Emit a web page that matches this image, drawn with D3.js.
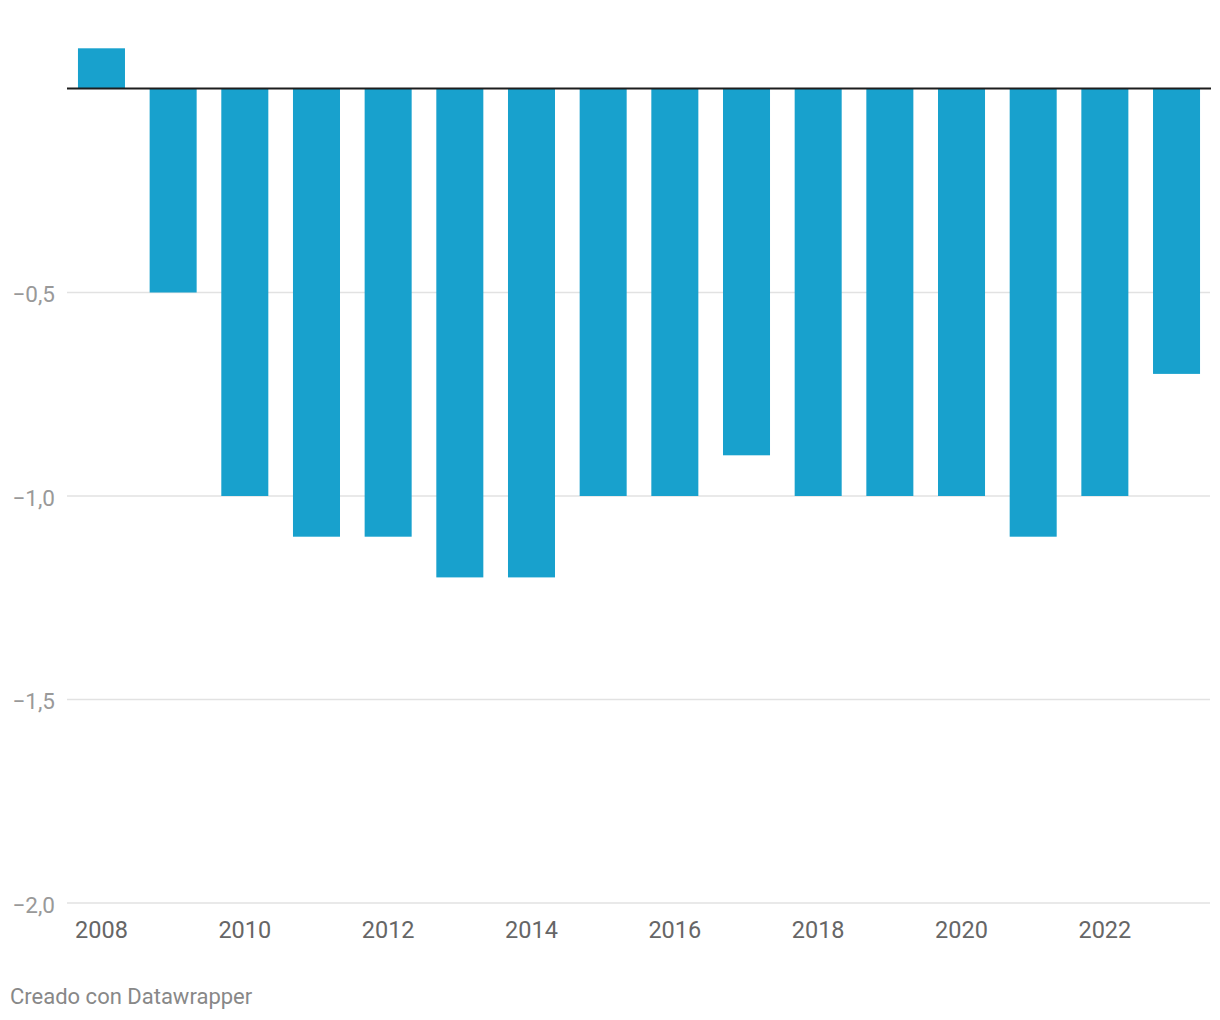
<!DOCTYPE html>
<html><head><meta charset="utf-8">
<script src="https://cdn.jsdelivr.net/npm/d3@7"></script>
<style>body{margin:0;background:#fff;}svg{display:block;font-family:Roboto,sans-serif;}</style>
</head><body>
<script>
const years = ["2008","2009","2010","2011","2012","2013","2014","2015","2016","2017","2018","2019","2020","2021","2022","2023"];
const values = [0.1,-0.5,-1.0,-1.1,-1.1,-1.2,-1.2,-1.0,-1.0,-0.9,-1.0,-1.0,-1.0,-1.1,-1.0,-0.7];
const yTicks = [-0.5,-1.0,-1.5,-2.0];
const xTickLabels = ["2008","2010","2012","2014","2016","2018","2020","2022"];

const W=1220,H=1020;
const svg=d3.select("body").append("svg").attr("width",W).attr("height",H);
const x=d3.scaleBand().domain(years).range([67,1211]).paddingInner(0.344).paddingOuter(0.153);
const y=d3.scaleLinear().domain([0,-2]).range([89,903]);

const fmt=v=>"\u2212"+d3.format(".1f")(Math.abs(v)).replace(".",",");
const g=svg.append("g");
g.selectAll("line.grid").data(yTicks).join("line").attr("class","grid")
 .attr("x1",67).attr("x2",1210).attr("y1",d=>y(d)).attr("y2",d=>y(d))
 .attr("stroke","#e2e2e2").attr("stroke-width",1.5);
g.selectAll("text.yl").data(yTicks).join("text").attr("class","yl")
 .attr("x",55).attr("y",d=>y(d)+1.5).attr("text-anchor","end").attr("dominant-baseline","central")
 .attr("fill","#999").attr("font-size",22.5).text(fmt);

svg.append("g").selectAll("rect").data(years).join("rect")
 .attr("x",d=>x(d)).attr("width",x.bandwidth())
 .attr("y",(d,i)=>y(Math.max(0,values[i])))
 .attr("height",(d,i)=>Math.abs(y(values[i])-y(0)))
 .attr("fill","#18a1cd");

svg.append("line").attr("x1",67).attr("x2",1211).attr("y1",y(0)-0.5).attr("y2",y(0)-0.5)
 .attr("stroke","#1d1d1d").attr("stroke-width",2);

svg.append("g").selectAll("text").data(xTickLabels).join("text")
 .attr("x",d=>x(d)+x.bandwidth()/2).attr("y",938).attr("text-anchor","middle")
 .attr("fill","#666").attr("font-size",23.5).text(d=>d);

svg.append("text").attr("x",10).attr("y",1004).attr("fill","#888").attr("font-size",22).text("Creado con Datawrapper");
</script>
</body></html>
